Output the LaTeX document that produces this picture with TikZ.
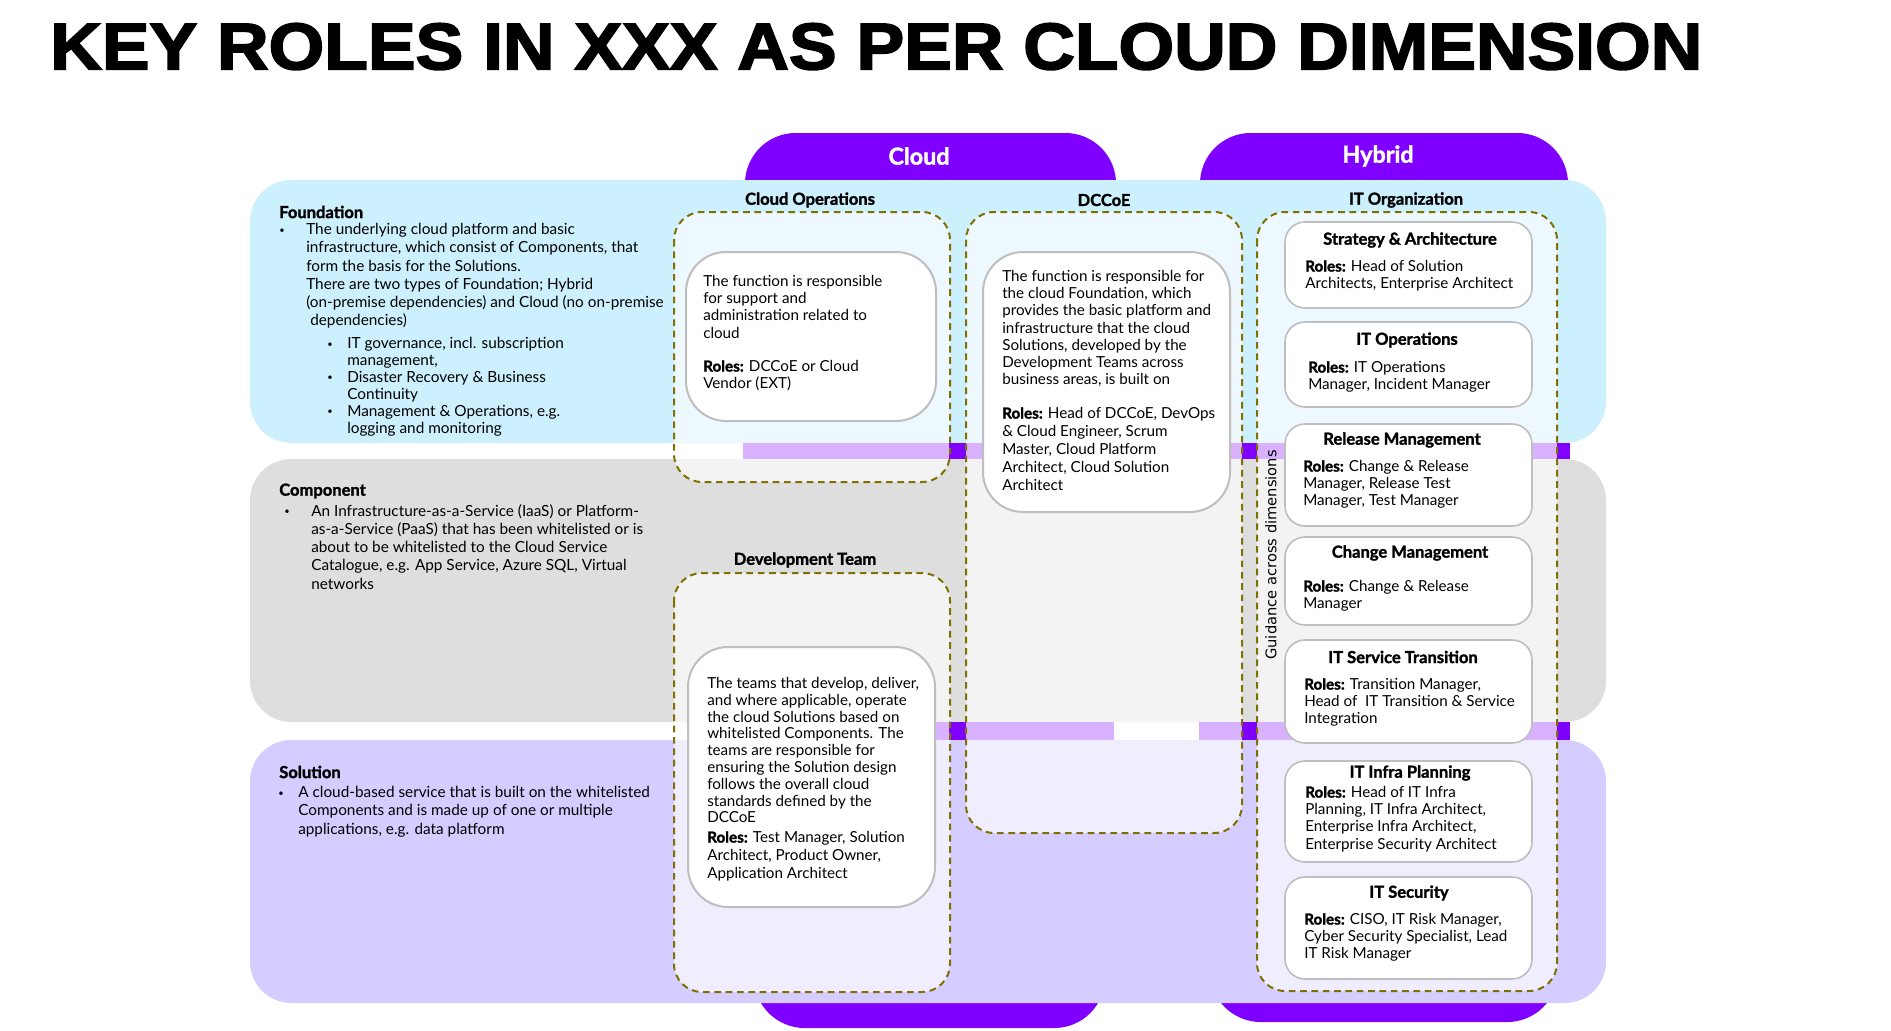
\documentclass[tikz,border=0pt]{standalone}
\usepackage{fontspec}
\usepackage{graphicx}
\setmainfont{Lato}[BoldFeatures={FakeBold=1.6}]
\newfontfamily\titlefont[FakeBold=2.5]{Liberation Sans}
\newfontfamily\guidfont{DejaVu Sans}
\definecolor{found}{RGB}{204,240,253}
\definecolor{comp}{RGB}{222,222,222}
\definecolor{solu}{RGB}{213,205,255}
\definecolor{dpurple}{RGB}{128,0,255}
\definecolor{lpurple}{RGB}{216,178,255}
\definecolor{olivedash}{RGB}{128,112,0}
\definecolor{boxgray}{RGB}{190,190,190}
\begin{document}
\begin{tikzpicture}[x=0.75pt,y=-0.75pt,
  band/.style={rounded corners=31pt},
  tabshape/.style={fill=dpurple,rounded corners=38pt},
  dashfill/.style={fill=white,fill opacity=0.65,rounded corners=21pt},
  dashbox/.style={draw=olivedash,line width=1.5pt,dash pattern=on 5pt off 3.5pt,rounded corners=21pt},
  innerbox/.style={draw=boxgray,line width=1.5pt,fill=white,rounded corners=30pt},
  itbox/.style={draw=boxgray,line width=1.2pt,fill=white,rounded corners=15pt},
  txt/.style={inner sep=0pt,anchor=north west,align=left,font=\fontsize{11.4}{12.9}\selectfont},
  lefttxt/.style={inner sep=0pt,anchor=north west,align=left,font=\fontsize{11.5}{13.7}\selectfont},
  head/.style={inner sep=0pt,font=\fontsize{12.4}{14}\selectfont\bfseries},
  bul/.style={inner sep=0pt,font=\fontsize{7}{9}\selectfont},
  tablabel/.style={inner sep=0pt,text=white,font=\fontsize{17.5}{20}\selectfont\bfseries}
]
\useasboundingbox (0,0) rectangle (1891,1031);
% title
\node[inner sep=0pt,anchor=north west] (title) at (50,23)
  {\resizebox{1239pt}{34.5pt}{\titlefont\bfseries KEY ROLES IN XXX AS PER CLOUD DIMENSION}};
% tabs
\fill[tabshape] (745,133) rectangle (1116,320);
\fill[tabshape] (1200,133) rectangle (1568,320);
\fill[tabshape] (754,880) rectangle (1105,1028);
\fill[tabshape] (1210,880) rectangle (1558,1022);
% bands
\fill[found,band] (250,180) rectangle (1606,443);
\fill[comp,band] (250,459) rectangle (1606,722);
\fill[solu,band] (250,740) rectangle (1606,1003);
% dashed box fills
\fill[dashfill] (674,212) rectangle (950,482);
\fill[dashfill] (674,573) rectangle (950,992);
\fill[dashfill] (966,212) rectangle (1242,833);
\fill[dashfill] (1257,212) rectangle (1557,991);
% strips between bands
\foreach \ya/\yb in {443/459,722/740}{
  \fill[lpurple] (743,\ya) rectangle (1114,\yb);
  \fill[lpurple] (1199,\ya) rectangle (1570,\yb);
  \fill[dpurple] (949,\ya) rectangle (966,\yb);
  \fill[dpurple] (1242,\ya) rectangle (1257,\yb);
  \fill[dpurple] (1557,\ya) rectangle (1570,\yb);
}
% dashed outlines
\draw[dashbox] (674,212) rectangle (950,482);
\draw[dashbox] (674,573) rectangle (950,992);
\draw[dashbox] (966,212) rectangle (1242,833);
\draw[dashbox] (1257,212) rectangle (1557,991);
% tab labels
\node[tablabel] (cloudlbl) at (919,156) {Cloud};
\node[tablabel] (hybridlbl) at (1378,156) {Hybrid};
% column headings
\node[head] (hcops) at (810,200) {Cloud Operations};
\node[head] (hdccoe) at (1104,200) {DCCoE};
\node[head] (hitorg) at (1406,200) {IT Organization};
\node[head] (hdev) at (805,560) {Development Team};
% left descriptions
\node[head,anchor=west] (hfound) at (279,212) {Foundation};
\node[bul] (bf) at (282,231) {\textbullet};
\node[lefttxt] (tfound) at (306,223) {The underlying cloud platform and basic\\infrastructure, which consist of Components, that\\form the basis for the Solutions.\\There are two types of Foundation; Hybrid\\(on-premise dependencies) and Cloud (no on-premise\\\hspace{3pt}dependencies)};
\node[bul] (bs1) at (330,345) {\textbullet};
\node[bul] (bs2) at (330,378) {\textbullet};
\node[bul] (bs3) at (330,412) {\textbullet};
\node[txt,font=\fontsize{11.5}{12.7}\selectfont] (tsub) at (347,337) {IT governance, incl. subscription\\management,\\Disaster Recovery \& Business\\Continuity\\Management \& Operations, e.g.\\logging and monitoring};
\node[head,anchor=west] (hcomp) at (279,491) {Component};
\node[bul] (bc) at (287,512) {\textbullet};
\node[lefttxt] (tcomp) at (311,504) {An Infrastructure-as-a-Service (IaaS) or Platform-\\as-a-Service (PaaS) that has been whitelisted or is\\about to be whitelisted to the Cloud Service\\Catalogue, e.g. App Service, Azure SQL, Virtual\\networks};
\node[head,anchor=west] (hsol) at (279,772) {Solution};
\node[bul] (bsol) at (281,794) {\textbullet};
\node[lefttxt] (tsol) at (298,786) {A cloud-based service that is built on the whitelisted\\Components and is made up of one or multiple\\applications, e.g. data platform};
% inner boxes
\draw[innerbox] (686,252) rectangle (936,421);
\node[txt] (cops) at (703,275) {The function is responsible\\for support and\\administration related to\\cloud};
\node[txt] (copsr) at (703,360) {\textbf{Roles:} DCCoE or Cloud\\Vendor (EXT)};
\draw[innerbox] (983,252) rectangle (1230,512);
\node[txt] (dcc) at (1002,270) {The function is responsible for\\the cloud Foundation, which\\provides the basic platform and\\infrastructure that the cloud\\Solutions, developed by the\\Development Teams across\\business areas, is built on};
\node[txt,font=\fontsize{11.4}{13.5}\selectfont] (dccr) at (1002,407) {\textbf{Roles:} Head of DCCoE, DevOps\\\& Cloud Engineer, Scrum\\Master, Cloud Platform\\Architect, Cloud Solution\\Architect};
\draw[innerbox] (688,647) rectangle (935,907);
\node[txt,font=\fontsize{11.4}{12.6}\selectfont] (dev) at (707,677) {The teams that develop, deliver,\\and where applicable, operate\\the cloud Solutions based on\\whitelisted Components. The\\teams are responsible for\\ensuring the Solution design\\follows the overall cloud\\standards defined by the\\DCCoE};
\node[txt,font=\fontsize{11.4}{13.5}\selectfont] (devr) at (707,831) {\textbf{Roles:} Test Manager, Solution\\Architect, Product Owner,\\Application Architect};
% IT organization boxes
\draw[itbox] (1285,222) rectangle (1532,308);
\node[head] (sa) at (1410,240) {Strategy \& Architecture};
\node[txt] (sar) at (1305,260) {\textbf{Roles:} Head of Solution\\Architects, Enterprise Architect};
\draw[itbox] (1285,322) rectangle (1532,407);
\node[head] (ito) at (1407,340) {IT Operations};
\node[txt] (itor) at (1308,361) {\textbf{Roles:} IT Operations\\Manager, Incident Manager};
\draw[itbox] (1285,424) rectangle (1532,526);
\node[head] (rm) at (1402,440) {Release Management};
\node[txt] (rmr) at (1303,460) {\textbf{Roles:} Change \& Release\\Manager, Release Test\\Manager, Test Manager};
\draw[itbox] (1285,537) rectangle (1532,625);
\node[head] (cm) at (1410,553) {Change Management};
\node[txt] (cmr) at (1303,580) {\textbf{Roles:} Change \& Release\\Manager};
\draw[itbox] (1285,640) rectangle (1532,743);
\node[head] (ist) at (1403,657) {IT Service Transition};
\node[txt] (istr) at (1304,678) {\textbf{Roles:} Transition Manager,\\Head of\ \ IT Transition \& Service\\Integration};
\draw[itbox] (1285,761) rectangle (1532,862);
\node[head] (iip) at (1410,773) {IT Infra Planning};
\node[txt] (iipr) at (1305,786) {\textbf{Roles:} Head of IT Infra\\Planning, IT Infra Architect,\\Enterprise Infra Architect,\\Enterprise Security Architect};
\draw[itbox] (1285,877) rectangle (1532,979);
\node[head] (its) at (1409,893) {IT Security};
\node[txt] (itsr) at (1304,913) {\textbf{Roles:} CISO, IT Risk Manager,\\Cyber Security Specialist, Lead\\IT Risk Manager};
% guidance
\node[inner sep=0pt,rotate=90,font=\guidfont\fontsize{11}{13}\selectfont] (guid) at (1271,555) {Guidance across dimensions};
\end{tikzpicture}
\end{document}
